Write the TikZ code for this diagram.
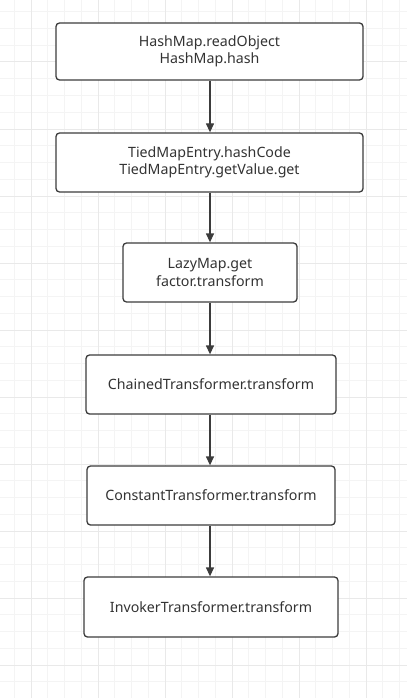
\documentclass[tikz,border=0pt]{standalone}
\usepackage{fontspec}
\setmainfont{Noto Sans}
\usetikzlibrary{arrows.meta}
\definecolor{minorgrid}{HTML}{F4F4F4}
\definecolor{majorgrid}{HTML}{E9E9E9}
\definecolor{edgecol}{HTML}{3C3C3C}
\definecolor{txtcol}{HTML}{333333}
\begin{document}
\begin{tikzpicture}[x=1pt,y=-1pt,
  box/.style={draw=edgecol, line width=1.3pt, rounded corners=3.5pt, fill=white,
    text=txtcol, font=\fontsize{14.2}{17.5}\selectfont, align=center, inner sep=0pt},
  arr/.style={draw=edgecol, line width=1.3pt, -{Triangle[length=9pt,width=8pt]}}]
\useasboundingbox (0,0) rectangle (407,698);
\fill[white] (0,0) rectangle (407,698);
% grid
\foreach \i in {-1,...,24} {
  \pgfmathsetmacro{\xx}{31+\i*16.75}
  \draw[minorgrid, line width=1pt] (\xx,0) -- (\xx,698);
}
\foreach \i in {-3,...,38} {
  \pgfmathsetmacro{\yy}{62+\i*16.75}
  \draw[minorgrid, line width=1pt] (0,\yy) -- (407,\yy);
}
\foreach \i in {0,...,6} {
  \pgfmathsetmacro{\xx}{31+\i*67}
  \draw[majorgrid, line width=1pt] (\xx,0) -- (\xx,698);
}
\foreach \i in {-1,...,10} {
  \pgfmathsetmacro{\yy}{62+\i*67}
  \draw[majorgrid, line width=1pt] (0,\yy) -- (407,\yy);
}
% boxes
\node[box, minimum width=307pt, minimum height=57pt] (b1) at (209.5,51.5) {HashMap.readObject\\HashMap.hash};
\node[box, minimum width=307pt, minimum height=59pt] (b2) at (209.5,162.5) {TiedMapEntry.hashCode\\TiedMapEntry.getValue.get};
\node[box, minimum width=174pt, minimum height=59pt] (b3) at (210,272.5) {LazyMap.get\\factor.transform};
\node[box, minimum width=250pt, minimum height=59pt] (b4) at (211,384.5) {ChainedTransformer.transform};
\node[box, minimum width=248pt, minimum height=59pt] (b5) at (211,495.5) {ConstantTransformer.transform};
\node[box, minimum width=254pt, minimum height=60pt] (b6) at (211,607) {InvokerTransformer.transform};
% arrows
\draw[arr] (b1.south -| 210,0) -- (b2.north -| 210,0);
\draw[arr] (b2.south -| 210,0) -- (b3.north -| 210,0);
\draw[arr] (b3.south -| 210,0) -- (b4.north -| 210,0);
\draw[arr] (b4.south -| 210,0) -- (b5.north -| 210,0);
\draw[arr] (b5.south -| 210,0) -- (b6.north -| 210,0);
\end{tikzpicture}
\end{document}
